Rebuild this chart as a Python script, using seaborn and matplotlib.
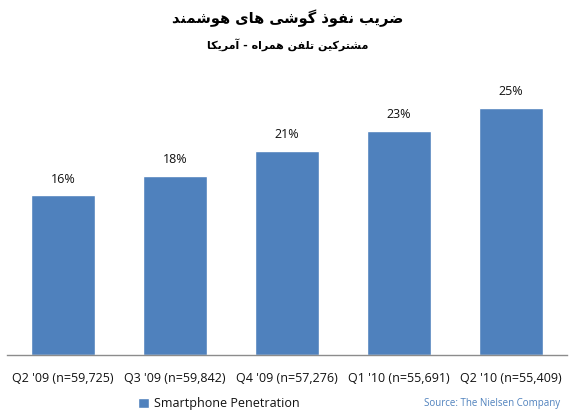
import matplotlib
matplotlib.use("Agg")
import matplotlib.pyplot as plt
import seaborn as sns
import pandas as pd

# data
quarters = ["Q2 '09 (n=59,725)", "Q3 '09 (n=59,842)", "Q4 '09 (n=57,276)",
            "Q1 '10 (n=55,691)", "Q2 '10 (n=55,409)"]
penetration = [16.3, 18.3, 20.8, 22.9, 25.2]
series_name = "Smartphone Penetration"
title = "ضریب نفوذ گوشی های هوشمند"
subtitle = "مشترکین تلفن همراه - آمریکا"
source = "Source: The Nielsen Company"

BLUE = "#4F81BD"

# minimal Persian shaping: isolated, final, initial, medial presentation forms
FORMS = {
    "ض": ("\uFEBD", "\uFEBE", "\uFEBF", "\uFEC0"),
    "ر": ("\uFEAD", "\uFEAE", None, None),
    "ی": ("\uFBFC", "\uFBFD", "\uFBFE", "\uFBFF"),
    "ب": ("\uFE8F", "\uFE90", "\uFE91", "\uFE92"),
    "ن": ("\uFEE5", "\uFEE6", "\uFEE7", "\uFEE8"),
    "ف": ("\uFED1", "\uFED2", "\uFED3", "\uFED4"),
    "و": ("\uFEED", "\uFEEE", None, None),
    "ذ": ("\uFEAB", "\uFEAC", None, None),
    "گ": ("\uFB92", "\uFB93", "\uFB94", "\uFB95"),
    "ش": ("\uFEB5", "\uFEB6", "\uFEB7", "\uFEB8"),
    "ه": ("\uFEE9", "\uFEEA", "\uFEEB", "\uFEEC"),
    "ا": ("\uFE8D", "\uFE8E", None, None),
    "آ": ("\uFE81", "\uFE82", None, None),
    "م": ("\uFEE1", "\uFEE2", "\uFEE3", "\uFEE4"),
    "د": ("\uFEA9", "\uFEAA", None, None),
    "ت": ("\uFE95", "\uFE96", "\uFE97", "\uFE98"),
    "ک": ("\uFB8E", "\uFB8F", "\uFB90", "\uFB91"),
    "ل": ("\uFEDD", "\uFEDE", "\uFEDF", "\uFEE0"),
}


def shape(text):
    out = []
    for i, ch in enumerate(text):
        if ch not in FORMS:
            out.append(ch)
            continue
        prev = text[i - 1] if i > 0 else ""
        nxt = text[i + 1] if i + 1 < len(text) else ""
        f = FORMS[ch]
        join_prev = prev in FORMS and FORMS[prev][2] is not None
        join_next = nxt in FORMS and f[2] is not None
        if join_prev and join_next:
            out.append(f[3])
        elif join_prev:
            out.append(f[1])
        elif join_next:
            out.append(f[2])
        else:
            out.append(f[0])
    return "".join(out)[::-1]


df = pd.DataFrame({"quarter": quarters, "value": penetration})

sns.set_style("white")
plt.rcParams["font.family"] = ["Open Sans", "DejaVu Sans"]

fig = plt.figure(figsize=(5.75, 4.13), dpi=100)
ax = fig.add_axes([0.012, 0.1404, 0.974, 0.7119])

sns.barplot(data=df, x="quarter", y="value", color=BLUE, width=0.57,
            saturation=1, ax=ax, label=series_name)

ax.set_ylim(0, 30)
ax.set_xlim(-0.5, 4.5)
ax.set_xlabel("")
ax.set_ylabel("")
ax.set_yticks([])
for s in ["top", "left", "right"]:
    ax.spines[s].set_visible(False)
ax.spines["bottom"].set_color("#8C8C8C")
ax.spines["bottom"].set_linewidth(1)
ax.tick_params(axis="x", length=0, pad=12, labelsize=9, colors="#111111")

ax.bar_label(ax.containers[0], labels=[f"{v:.0f}%" for v in penetration],
             padding=7, fontsize=9, color="#111111")

if ax.get_legend():
    ax.get_legend().remove()
handles, labels = ax.get_legend_handles_labels()
fig.legend(handles, labels, loc="center", bbox_to_anchor=(0.38, 0.022),
           frameon=False, fontsize=9, handlelength=0.9, handleheight=0.9,
           handletextpad=0.4, labelcolor="#111111")

fig.text(0.5, 0.956, shape(title), ha="center", va="center",
         fontsize=10.5, fontweight="bold", color="black",
         family=["DejaVu Sans"])
fig.text(0.5, 0.893, shape(subtitle), ha="center", va="center",
         fontsize=8, fontweight="bold", color="black",
         family=["DejaVu Sans"])
fig.text(0.975, 0.022, source, ha="right", va="center",
         fontsize=7, color=BLUE)

fig.savefig("out.png", dpi=100)
